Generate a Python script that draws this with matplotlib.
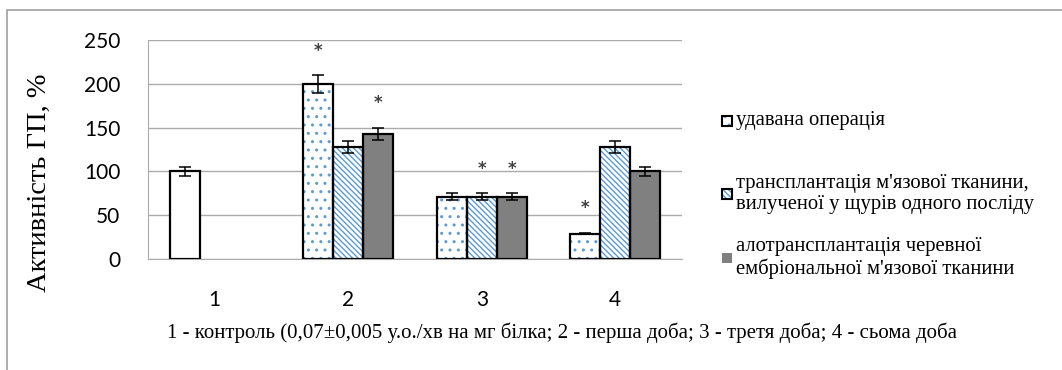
import numpy as np
import matplotlib
matplotlib.use('Agg')
from matplotlib import pyplot as plt
from matplotlib.patches import Rectangle

# дані
kategorii = ['1', '2', '3', '4']
serii = ['удавана операція',
         'трансплантація м\'язової тканини,\nвилученої у щурів одного посліду',
         'алотрансплантація черевної\nембріональної м\'язової тканини']
znachennia = [
    [100, 200, 71, 29],
    [np.nan, 128, 71, 128],
    [np.nan, 143, 71, 100],
]
pokhybky = [
    [5, 10, 4, 1],
    [np.nan, 7, 4, 7],
    [np.nan, 7, 4, 5],
]
zirochky = [  # де стоїть позначка достовірності
    [False, True, False, True],
    [False, False, True, False],
    [False, True, True, False],
]
pidpys = '1 - контроль (0,07±0,005 у.о./хв на мг білка; 2 - перша доба; 3 - третя доба; 4 - сьома доба'

W, H = 1062, 370
fig = plt.figure(figsize=(W / 100, H / 100), dpi=100)
ax = fig.add_axes([148 / W, 1 - 259 / H, (682 - 148) / W, (259 - 40) / H])

blakytnyi = '#5b9bd5'
stili = [
    dict(facecolor='white', hatch='..'),
    dict(facecolor='white', hatch='\\\\\\\\\\\\'),
    dict(facecolor='#808080', hatch=None),
]
plt.rcParams['hatch.linewidth'] = 1.0

x = np.arange(len(kategorii))
shyryna = 30 / 133.5
for i, st in enumerate(stili):
    xs = x + (i - 1) * shyryna
    vals = np.array(znachennia[i], dtype=float)
    errs = np.array(pokhybky[i], dtype=float)
    ok = ~np.isnan(vals)
    # заливка зі штрихуванням, потім чорний контур
    bars = ax.bar(xs[ok], vals[ok], shyryna, color=st['facecolor'], hatch=st['hatch'],
                  edgecolor=blakytnyi, linewidth=0, zorder=2)
    if i == 0:
        bars[0].set_hatch(None)  # контрольний стовпчик без штрихування
    ax.bar(xs[ok], vals[ok], shyryna, fill=False, edgecolor='black', linewidth=1.6, zorder=3)
    ax.errorbar(xs[ok], vals[ok], yerr=errs[ok], fmt='none', ecolor='black',
                elinewidth=1.1, capsize=4.5, capthick=1.1, zorder=4)
    for j in np.where(np.array(zirochky[i]))[0]:
        ax.text(xs[j], vals[j] + errs[j] + 28, '*', ha='center', va='center',
                fontsize=12, color='#404040', fontweight='bold', zorder=5)

ax.set_xlim(-0.5, 3.5)
ax.set_ylim(0, 250)
ax.set_yticks(np.arange(0, 251, 50))
ax.set_xticks(x)
ax.set_xticklabels(kategorii)
ax.tick_params(length=0, labelsize=15, colors='black')
ax.tick_params(axis='x', pad=22)
ax.tick_params(axis='y', pad=20)
for lab in ax.get_xticklabels() + ax.get_yticklabels():
    lab.set_family('Lato')
ax.grid(axis='y', color='#ababab', linewidth=1.0, zorder=0)
ax.set_axisbelow(True)
for s in ['top', 'right']:
    ax.spines[s].set_visible(False)
ax.spines['left'].set_color('#ababab')
ax.spines['bottom'].set_color('#ababab')
ax.set_ylabel('Активність ГП, %', family='Liberation Serif', fontsize=20.5)
ax.yaxis.set_label_coords(-0.18, 0.35)

# легенда вручну
leg_y = [121, 194, 258]
for i, st in enumerate(stili):
    y = leg_y[i]
    fig.patches.append(Rectangle((722 / W, 1 - (y + 5) / H), 10 / W, 10 / H,
                                 transform=fig.transFigure, facecolor=st['facecolor'],
                                 hatch=st['hatch'], edgecolor=blakytnyi, linewidth=0))
    if i < 2:
        fig.patches.append(Rectangle((722 / W, 1 - (y + 5) / H), 10 / W, 10 / H,
                                     transform=fig.transFigure, fill=False,
                                     edgecolor='black', linewidth=1.5))
    fig.text(736 / W, 1 - y / H, serii[i], family='Liberation Serif', fontsize=14.9,
             va='center', ha='left', linespacing=1.1)

fig.text(562 / W, 1 - 333 / H, pidpys, family='Liberation Serif', fontsize=15,
         ha='center', va='center')

# рамка області діаграми
fig.patches.append(Rectangle((7 / W, -0.1), 1.2, 1 - 10 / H + 0.1, transform=fig.transFigure,
                             fill=False, edgecolor='#a0a0a0', linewidth=1.2))

fig.savefig('out.png', dpi=100)
